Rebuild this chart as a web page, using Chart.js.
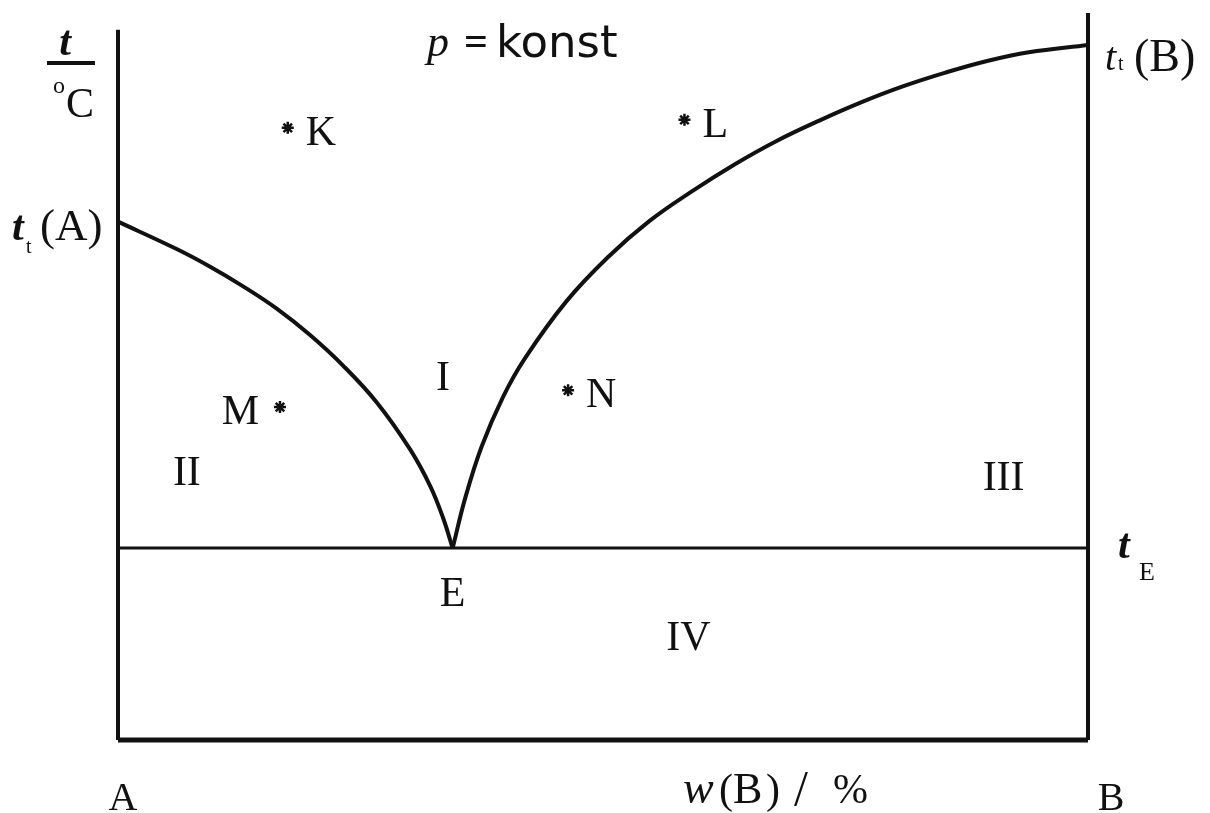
<!DOCTYPE html>
<html>
<head>
<meta charset="utf-8">
<title>Fazni dijagram</title>
<script src="https://cdn.jsdelivr.net/npm/chart.js@4.4.1/dist/chart.umd.min.js"></script>
<style>
  html, body { margin: 0; padding: 0; background: #fff; }
  canvas { display: block; }
</style>
</head>
<body>
<canvas id="phase" width="1210" height="813"></canvas>
<script>
// liquidus of A (from t_t(A) down to E)
const liqA_w = [0, 6.1, 9.5, 12.9, 16.4, 19.8, 23.2, 26.7, 30.1, 32.2, 33.5, 34.5];
const liqA_t = [71.3, 67.5, 65.1, 62.4, 59.3, 55.7, 51.5, 46.4, 40.0, 34.9, 30.6, 26.4];
// liquidus of B (from E up to t_t(B))
const liqB_w = [34.5, 35.8, 37.5, 39.7, 41.9, 46.2, 50.5, 54.8, 59.2, 63.6, 67.9, 72.3, 76.6, 80.9, 85.3, 89.6, 93.9, 100];
const liqB_t = [26.4, 33.3, 40.4, 47.2, 52.4, 60.3, 66.4, 71.4, 75.5, 79.2, 82.4, 85.2, 87.7, 89.9, 91.8, 93.4, 94.6, 95.6];

const tE = 26.4;
const wE = 34.5;
const axisTopA = 97.7;
const axisTopB = 100;

// state points
const pointNames = ['K', 'L', 'M', 'N'];
const pointW = [17.5, 58.4, 16.7, 46.4];
const pointT = [84.2, 85.3, 45.8, 48.1];

// regions
const regionNames = ['I', 'II', 'III', 'IV'];
const regionW = [33.5, 7.1, 91.3, 58.8];
const regionT = [48.1, 35.1, 34.4, 12.4];

const ink = '#111';
const serif = '"Liberation Serif", "DejaVu Serif", serif';

function pts(xs, ys) {
    return xs.map((x, i) => ({ x: x, y: ys[i] }));
}

function lineSet(data, width, smooth) {
    return {
        data: data,
        showLine: true,
        borderColor: ink,
        borderWidth: width,
        pointRadius: 0,
        fill: false,
        clip: false,
        tension: smooth ? 0.4 : 0
    };
}

const labels = {
    id: 'labels',
    afterDatasetsDraw(chart) {
        const ctx = chart.ctx;
        const xs = chart.scales.x, ys = chart.scales.y;
        const L = chart.chartArea.left, R = chart.chartArea.right, B = chart.chartArea.bottom;
        const txt = (s, x, y, font, align) => {
            ctx.font = font;
            ctx.textAlign = align || 'center';
            ctx.textBaseline = 'alphabetic';
            ctx.fillText(s, x, y);
        };
        ctx.save();
        ctx.fillStyle = ink;

        // point names
        pointNames.forEach((n, i) => {
            const px = xs.getPixelForValue(pointW[i]);
            const py = ys.getPixelForValue(pointT[i]);
            if (n === 'M') txt(n, px - 21, py + 17, '42px ' + serif, 'right');
            else txt(n, px + 18, py + 17, '42px ' + serif, 'left');
        });

        // region numerals
        regionNames.forEach((n, i) => {
            txt(n, xs.getPixelForValue(regionW[i]), ys.getPixelForValue(regionT[i]), '42px ' + serif);
        });

        // eutectic point
        txt('E', xs.getPixelForValue(wE), ys.getPixelForValue(tE) + 58, '42px ' + serif);

        // y axis quantity t / °C
        txt('t', L - 53, 55, 'bold italic 42px ' + serif);
        ctx.fillRect(L - 71, 61, 48, 4);
        txt('o', L - 65, 93, '24px ' + serif, 'left');
        txt('C', L - 52, 117, '42px ' + serif, 'left');

        // melting point of A
        const yA = ys.getPixelForValue(liqA_t[0]);
        txt('t', L - 106, yA + 18, 'bold italic 42px ' + serif, 'left');
        txt('t', L - 92, yA + 31, '20px ' + serif, 'left');
        txt('(A)', L - 78, yA + 18, '45px ' + serif, 'left');

        // melting point of B
        const yB = ys.getPixelForValue(liqB_t[liqB_t.length - 1]);
        txt('t', R + 17, yB + 25, 'italic 40px ' + serif, 'left');
        txt('t', R + 30, yB + 25, '20px ' + serif, 'left');
        txt('(B)', R + 46, yB + 26, '46px ' + serif, 'left');

        // eutectic temperature
        const yE = ys.getPixelForValue(tE);
        txt('t', R + 30, yE + 10, 'bold italic 42px ' + serif, 'left');
        txt('E', R + 51, yE + 32, '26px ' + serif, 'left');

        // pressure note
        txt('p', 427, 56, 'italic 44px ' + serif, 'left');
        txt('=', 464, 55, 'bold 42px ' + serif, 'left');
        txt('konst', 496, 57, '45px "DejaVu Sans", sans-serif', 'left');

        // x axis: components and quantity
        txt('A', L + 5, B + 70, '40px ' + serif);
        txt('B', R + 23, B + 70, '40px ' + serif);
        const yq = B + 63;
        txt('w', 683, yq, 'italic 46px ' + serif, 'left');
        txt('(', 719, yq, '42px ' + serif, 'left');
        txt('B', 733, yq, '44px ' + serif, 'left');
        txt(')', 766, yq, '42px ' + serif, 'left');
        txt('/', 794, yq + 2, '50px ' + serif, 'left');
        txt('%', 833, yq, '42px ' + serif, 'left');

        ctx.restore();
    }
};

new Chart(document.getElementById('phase'), {
    type: 'scatter',
    data: {
        datasets: [
            lineSet([{ x: 0, y: 0 }, { x: 0, y: axisTopA }], 4, false),
            lineSet([{ x: 100, y: 0 }, { x: 100, y: axisTopB }], 4, false),
            lineSet([{ x: 0, y: 0 }, { x: 100, y: 0 }], 5, false),
            lineSet([{ x: 0, y: tE }, { x: 100, y: tE }], 3, false),
            lineSet(pts(liqA_w, liqA_t), 4, true),
            lineSet(pts(liqB_w, liqB_t), 4, true),
            {
                data: pts(pointW, pointT),
                showLine: false,
                pointStyle: 'star',
                pointRadius: 6,
                borderWidth: 2.5,
                borderColor: ink,
                backgroundColor: ink,
                clip: false
            }
        ]
    },
    options: {
        responsive: false,
        animation: false,
        events: [],
        layout: { padding: { left: 118, right: 122, top: 13, bottom: 73 } },
        scales: {
            x: { type: 'linear', min: 0, max: 100, display: false },
            y: { type: 'linear', min: 0, max: 100, display: false }
        },
        plugins: {
            legend: { display: false },
            tooltip: { enabled: false }
        }
    },
    plugins: [labels]
});
</script>
</body>
</html>
